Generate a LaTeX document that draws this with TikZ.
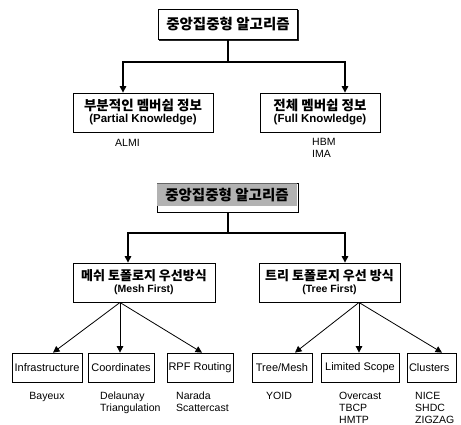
\documentclass[tikz,border=0pt]{standalone}
\usepackage{fontspec}
\setmainfont{Liberation Sans}
\newfontfamily\kr{Noto Sans CJK KR}
\usetikzlibrary{arrows.meta,calc}
\tikzset{
  box/.style={draw=black, line width=0.8pt, fill=white, inner sep=0pt, align=center},
  rootbox/.style={box, minimum width=139pt, minimum height=30pt},
  midbox/.style={box, minimum height=39pt},
  leafbox/.style={box, minimum height=29pt, font=\fontsize{11}{13}\selectfont},
  lbl/.style={inner sep=0pt, font=\fontsize{10.5}{12}\selectfont, align=left},
  conn/.style={line width=1.1pt, draw=black},
  arr/.style={line width=0.8pt, draw=black, -{Triangle[length=6.5pt,width=6.5pt]}},
  arrb/.style={line width=1.1pt, draw=black, -{Triangle[length=6.5pt,width=6.5pt]}},
  krroot/.style={font=\kr\bfseries\fontsize{14.5}{17}\selectfont},
  krmid/.style={font=\kr\bfseries\fontsize{13.5}{16}\selectfont},
}
\begin{document}
\begin{tikzpicture}[x=1pt,y=-1pt]
\useasboundingbox (0,0) rectangle (461,425);

% ---------- top tree ----------
\draw[line width=1.6pt, black!85] (159,40.2) -- (298.6,40.2) -- (298.6,10);
\node[rootbox, krroot] (root1) at (228,24.5) {중앙집중형 알고리즘};

\node[midbox, minimum width=140pt] (pk) at (143,112.5)
  {{\kr\bfseries\fontsize{13.5}{16}\selectfont 부분적인 멤버쉽 정보}\\[0pt]{\bfseries\fontsize{11.5}{13}\selectfont (Partial Knowledge)}};
\node[midbox, minimum width=120pt] (fk) at (320,112.5)
  {{\kr\bfseries\fontsize{13.5}{16}\selectfont 전체 멤버쉽 정보}\\[0pt]{\bfseries\fontsize{11.5}{13}\selectfont (Full Knowledge)}};

\coordinate (j1) at (228,62);
\coordinate (j1l) at (123,62);
\coordinate (j1r) at (345,62);
\draw[conn] (root1.south) -- (j1);
\draw[arrb] (j1) -- (j1l) -- (pk.north -| j1l);
\draw[arrb] (j1) -- (j1r) -- (fk.north -| j1r);

\node[lbl, anchor=west] (almi) at (115,143) {ALMI};
\node[lbl, anchor=north west] (hbm) at (312,138) {HBM\\IMA};

% ---------- bottom tree ----------
\draw[line width=0.9pt, fill=white] (157,183) rectangle (298,212.5);
\fill[black!30] (157,183) rectangle (297,206.5);
\draw[line width=0.5pt, black!60] (157,183) -- (297,183);
\node[inner sep=0pt, krroot] (root2) at (227,195) {중앙집중형 알고리즘};
\coordinate (root2s) at (228,212.5);

\node[midbox, minimum width=142pt] (mesh) at (144,282.5)
  {{\kr\bfseries\fontsize{13}{16}\selectfont 메쉬 토폴로지 우선방식}\\[0pt]{\bfseries\fontsize{10.5}{12}\selectfont (Mesh First)}};
\node[midbox, minimum width=141pt] (tree) at (329.5,282.5)
  {{\kr\bfseries\fontsize{13}{16}\selectfont 트리 토폴로지 우선 방식}\\[0pt]{\bfseries\fontsize{10.5}{12}\selectfont (Tree First)}};

\coordinate (j2) at (228,233);
\coordinate (j2l) at (128,233);
\coordinate (j2r) at (345,233);
\draw[conn] (root2s) -- (j2);
\draw[arrb] (j2) -- (j2l) -- (mesh.north -| j2l);
\draw[arrb] (j2) -- (j2r) -- (tree.north -| j2r);

% leaves
\node[leafbox, minimum width=70pt] (infra) at (47,367.5) {Infrastructure};
\node[leafbox, minimum width=66pt] (coord) at (121,367.5) {Coordinates};
\node[leafbox, minimum width=66pt] (rpf) at (200,367.5) {RPF Routing};
\node[leafbox, minimum width=60pt] (tm) at (282,367.5) {Tree/Mesh};
\node[leafbox, minimum width=78pt] (lim) at (360,367.5) {Limited Scope};
\node[leafbox, minimum width=49pt, text width=45pt, align=left] (clu) at (431.5,367.5) {Clusters};

\coordinate (mf) at (120,302.5);
\coordinate (tf) at (359,302.5);
\coordinate (xinfra) at (53,0);
\coordinate (xcoord) at (120,0);
\coordinate (xrpf) at (202,0);
\coordinate (xtm) at (295,0);
\coordinate (xlim) at (359,0);
\coordinate (xclu) at (442,0);
\draw[arr] (mf) -- (infra.north -| xinfra);
\draw[arr] (mf) -- (coord.north -| xcoord);
\draw[arr] (mf) -- (rpf.north -| xrpf);
\draw[arr] (tf) -- (tm.north -| xtm);
\draw[arr] (tf) -- (lim.north -| xlim);
\draw[arr] (tf) -- (clu.north -| xclu);

% labels
\node[lbl, anchor=north] (l1) at (47,392) {Bayeux};
\node[lbl, anchor=north west] (l2) at (100,392) {Delaunay\\Triangulation};
\node[lbl, anchor=north west] (l3) at (176,392) {Narada\\Scattercast};
\node[lbl, anchor=north] (l4) at (279,392) {YOID};
\node[lbl, anchor=north west] (l5) at (339,392) {Overcast\\TBCP\\HMTP};
\node[lbl, anchor=north west] (l6) at (415,392) {NICE\\SHDC\\ZIGZAG};
\end{tikzpicture}
\end{document}
